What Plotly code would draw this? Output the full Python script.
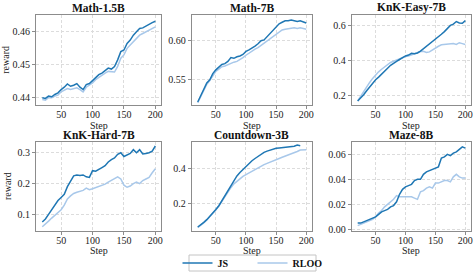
import plotly.graph_objects as go

steps = list(range(20, 201, 5))

titles = ["Math-1.5B", "Math-7B", "KnK-Easy-7B", "KnK-Hard-7B", "Countdown-3B", "Maze-8B"]

math15_js = [.4400, .4398, .4405, .4403, .4410, .4415, .4425, .4432, .4442, .4435, .4438, .4443, .4432, .4425,
             .4440, .4443, .4452, .4462, .4470, .4475, .4483, .4490, .4487, .4495, .4515, .4540, .4545, .4565,
             .4575, .4590, .4600, .4610, .4612, .4618, .4622, .4628, .4632]
math15_rloo = [.4395, .4393, .4400, .4400, .4405, .4408, .4418, .4422, .4428, .4425, .4428, .4430, .4425, .4418,
               .4432, .4438, .4445, .4455, .4462, .4468, .4475, .4480, .4478, .4478, .4495, .4520, .4530, .4550,
               .4560, .4570, .4580, .4590, .4595, .4600, .4605, .4610, .4615]

math7_js = [.520, .528, .537, .545, .549, .557, .562, .566, .569, .570, .573, .578, .577, .579, .580, .582, .586,
            .588, .590, .593, .596, .600, .601, .605, .610, .613, .617, .622, .624, .626, .626, .627, .626, .625,
            .626, .624, .623]
math7_rloo = [.519, .527, .536, .543, .548, .554, .560, .563, .566, .567, .569, .571, .572, .573, .575, .578, .581,
              .584, .586, .589, .591, .594, .596, .599, .603, .606, .609, .612, .614, .615, .616, .616, .617, .616,
              .617, .616, .615]

easy_js = [.170, .185, .205, .228, .250, .270, .290, .305, .320, .338, .355, .372, .385, .395, .405, .415, .425,
           .430, .440, .438, .442, .452, .465, .478, .492, .506, .520, .535, .548, .563, .580, .598, .605, .620,
           .612, .610, .625]
easy_rloo = [.170, .198, .225, .250, .275, .298, .318, .335, .350, .362, .378, .388, .395, .402, .410, .418, .422,
             .425, .432, .440, .445, .450, .452, .445, .448, .460, .470, .480, .488, .490, .492, .490, .495, .490,
             .500, .495, .490]

hard_js = [.075, .085, .100, .115, .130, .145, .155, .165, .190, .210, .225, .228, .226, .228, .222, .220, .242,
           .240, .245, .252, .258, .270, .278, .283, .295, .300, .288, .292, .298, .310, .300, .310, .296, .298,
           .300, .305, .322]
hard_rloo = [.060, .068, .078, .088, .098, .105, .115, .130, .150, .160, .168, .172, .175, .178, .185, .180, .183,
             .187, .190, .193, .198, .205, .210, .215, .222, .215, .195, .188, .192, .200, .205, .200, .210, .215,
             .220, .235, .248]

count_js = [.068, .080, .095, .110, .128, .148, .168, .190, .218, .245, .275, .305, .335, .360, .380, .398, .412,
            .428, .447, .460, .472, .485, .495, .502, .508, .512, .518, .520, .522, .528, .527, .532, .530, .537,
            .533, None, None]
count_rloo = [.065, .077, .092, .108, .125, .145, .165, .188, .215, .240, .268, .293, .315, .330, .345, .358, .368,
              .378, .388, .395, .405, .415, .425, .432, .440, .447, .452, .460, .467, .473, .478, .485, .492, .500,
              .508, .510, .510]

maze_js = [.005, .005, .006, .007, .008, .009, .010, .012, .014, .015, .016, .018, .019, .022, .028, .032, .034,
           .035, .036, .039, .040, .040, .044, .046, .047, .048, .049, .050, .057, .058, .060, .059, .061, .062,
           .064, .066, .065]
maze_rloo = [.003, .004, .005, .006, .007, .008, .010, .013, .015, .018, .020, .022, .024, .027, .026, .026, .026,
             .026, .026, .025, .024, .030, .031, .033, .034, .033, .037, .037, .038, .039, .039, .038, .042, .044,
             .042, .041, .041]

js_series = [math15_js, math7_js, easy_js, hard_js, count_js, maze_js]
rloo_series = [math15_rloo, math7_rloo, easy_rloo, hard_rloo, count_rloo, maze_rloo]

y_ranges = [[0.4379, 0.4651], [0.5165, 0.6335], [0.149, 0.657], [0.047, 0.336], [0.047, 0.556], [-0.0011, 0.0701]]
y_dticks = [0.01, 0.05, 0.2, 0.1, 0.2, 0.02]
y_formats = [".2f", ".2f", ".1f", ".1f", ".1f", ".2f"]
x_ticks = [50, 100, 150, 200]

JS_COLOR = "#1f77b4"
RLOO_COLOR = "#a8c8ea"
W, H = 476, 276
FONT = "Liberation Serif"

col_x = [(36, 161), (191.7, 311.7), (351.7, 470.7)]
row_y = [(15, 104.7), (141.7, 230.7)]
step_label_y = [125, 250.5]
legend_box = (189, 255, 316, 271)

fig = go.Figure()
annotations = []
for i in range(6):
    r, c = divmod(i, 3)
    xd = [col_x[c][0] / W, col_x[c][1] / W]
    yd = [1 - row_y[r][1] / H, 1 - row_y[r][0] / H]
    xa = "x" if i == 0 else f"x{i+1}"
    ya = "y" if i == 0 else f"y{i+1}"
    fig.add_trace(go.Scatter(x=steps, y=rloo_series[i], mode="lines", name="RLOO",
                             line=dict(color=RLOO_COLOR, width=1.5), xaxis=xa, yaxis=ya,
                             showlegend=(i == 0), legendrank=2))
    fig.add_trace(go.Scatter(x=steps, y=js_series[i], mode="lines", name="JS",
                             line=dict(color=JS_COLOR, width=1.5), xaxis=xa, yaxis=ya,
                             showlegend=(i == 0), legendrank=1))
    axis_common = dict(showline=True, mirror=True, linecolor="#8c8c8c", linewidth=1,
                       ticks="outside", ticklen=3, tickcolor="#8c8c8c", tickwidth=1,
                       showgrid=True, gridcolor="#dcdcdc", griddash="3px,2px", gridwidth=0.8,
                       zeroline=False, tickfont=dict(family=FONT, size=10, color="#222"))
    xkey = "xaxis" if i == 0 else f"xaxis{i+1}"
    ykey = "yaxis" if i == 0 else f"yaxis{i+1}"
    fig.update_layout({
        xkey: dict(domain=xd, anchor=ya, range=[10, 209], tickvals=x_ticks, **axis_common),
        ykey: dict(domain=yd, anchor=xa, range=y_ranges[i], dtick=y_dticks[i], tick0=0,
                   tickformat=y_formats[i],
                   title=dict(text="reward" if c == 0 else "", font=dict(family=FONT, size=10, color="#222"),
                              standoff=3),
                   **axis_common),
    })
    try:
        fig.update_layout({xkey: dict(ticklabelstandoff=-3)})
    except Exception:
        pass
    annotations.append(dict(text="Step", x=(xd[0] + xd[1]) / 2, y=1 - step_label_y[r] / H,
                            xref="paper", yref="paper", xanchor="center", yanchor="middle",
                            showarrow=False, font=dict(family=FONT, size=10, color="#222")))
    annotations.append(dict(text=f"<b>{titles[i]}</b>", x=(xd[0] + xd[1]) / 2, y=yd[1],
                            xref="paper", yref="paper", xanchor="center", yanchor="bottom",
                            showarrow=False, yshift=-1,
                            font=dict(family=FONT, size=11.5, color="#111")))

fig.add_shape(type="rect", xref="paper", yref="paper",
              x0=legend_box[0] / W, x1=legend_box[2] / W,
              y0=1 - legend_box[3] / H, y1=1 - legend_box[1] / H,
              line=dict(color="#c4c4c4", width=1), fillcolor="rgba(0,0,0,0)", layer="above")

fig.update_layout(
    width=W, height=H,
    margin=dict(l=0, r=0, t=0, b=0, autoexpand=False),
    paper_bgcolor="white", plot_bgcolor="white",
    annotations=annotations,
    showlegend=True,
    legend=dict(orientation="h", x=(legend_box[0] + legend_box[2]) / 2 / W,
                y=1 - (legend_box[1] + legend_box[3]) / 2 / H, xanchor="center", yanchor="middle",
                borderwidth=0, bgcolor="rgba(0,0,0,0)",
                font=dict(family=FONT, size=10, color="#111", weight="bold"),
                itemwidth=30, entrywidth=30, entrywidthmode="pixels",
                traceorder="normal"),
)

fig.write_html("out.html", config={"displayModeBar": False},
               post_script="document.body.style.margin='0';document.body.style.padding='0';")
